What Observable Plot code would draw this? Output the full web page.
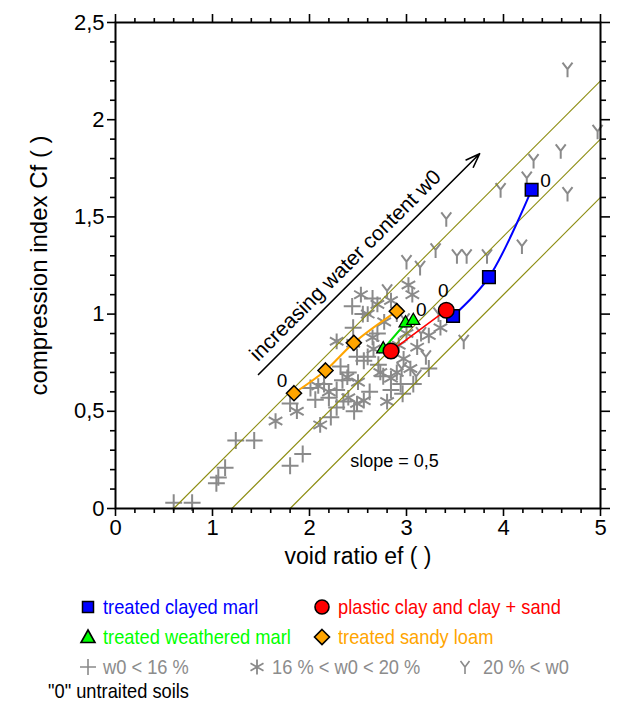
<!DOCTYPE html>
<html>
<head>
<meta charset="utf-8">
<script src="https://cdn.jsdelivr.net/npm/d3@7"></script>
<script src="https://cdn.jsdelivr.net/npm/@observablehq/plot@0.6"></script>
<style>
  body { margin: 0; background: white; font-family: "Liberation Sans", Arial, sans-serif; }
  #wrap { width: 621px; position: relative; }
  #legend { position: relative; width: 621px; height: 128px; font-size: 21px; overflow: hidden; }
  #legend .t { position: absolute; line-height: 24px; white-space: nowrap; transform: scaleX(0.87); transform-origin: left center; }
  #legend svg { position: absolute; overflow: visible; }
</style>
</head>
<body>
<div id="wrap"></div>
<script>
// ---------- data ----------
const xTicks = [0, 1, 2, 3, 4, 5];
const xTickLabels = ["0", "1", "2", "3", "4", "5"];
const yTicks = [0, 0.5, 1, 1.5, 2, 2.5];
const yTickLabels = ["0", "0,5", "1", "1,5", "2", "2,5"];

// treated clayed marl (blue squares); last point = untreated "0"
const blueX = [3.48, 3.85, 4.29];
const blueY = [0.99, 1.19, 1.64];
// plastic clay and clay + sand (red circles)
const redX = [2.84, 3.41];
const redY = [0.81, 1.02];
// treated weathered marl (green triangles)
const greenX = [2.76, 2.99, 3.07];
const greenY = [0.82, 0.953, 0.966];
// treated sandy loam (orange diamonds)
const orangeX = [1.84, 2.165, 2.457, 2.90];
const orangeY = [0.593, 0.71, 0.852, 1.015];
// index of the untreated soil in each series
const untreated = { blue: 2, red: 1, green: 2, orange: 0 };

// w0 < 16 %
const lowX = [0.60, 0.79, 1.04, 1.06, 1.13, 1.24, 1.43, 1.80, 1.93, 1.80, 2.01, 2.06, 2.22, 2.20, 2.28, 2.35, 2.46, 2.34, 2.28, 2.32, 2.49, 2.56, 2.60, 2.71, 2.84, 2.96, 2.94, 3.07, 2.76, 3.23, 2.55, 2.65, 2.45, 2.40, 2.15, 2.70, 2.62, 2.44];
const lowY = [0.03, 0.03, 0.13, 0.16, 0.21, 0.35, 0.35, 0.22, 0.28, 0.54, 0.62, 0.56, 0.47, 0.57, 0.52, 0.55, 0.50, 0.66, 0.61, 0.73, 0.78, 0.76, 0.78, 0.74, 0.61, 0.59, 0.64, 0.64, 0.68, 0.72, 1.00, 1.08, 0.93, 0.70, 0.64, 0.90, 0.60, 1.04];
// 16 % < w0 < 20 %
const midX = [1.65, 1.87, 2.11, 2.09, 2.28, 2.39, 2.40, 2.49, 2.56, 2.70, 2.77, 2.65, 2.66, 2.92, 2.97, 3.04, 2.84, 2.73, 3.02, 2.84, 3.06, 3.35, 3.23, 3.11, 2.53, 2.60, 2.80, 2.90, 2.45, 3.00, 2.50, 2.20];
const midY = [0.45, 0.50, 0.43, 0.63, 0.86, 0.675, 0.57, 0.54, 0.555, 1.05, 0.96, 0.88, 0.82, 0.84, 0.77, 0.72, 0.67, 0.70, 1.15, 1.07, 1.10, 0.93, 0.89, 0.83, 1.10, 1.00, 0.55, 0.70, 0.85, 0.90, 0.65, 0.60];
// 20 % < w0
const highX = [4.66, 4.97, 4.59, 4.31, 4.24, 4.66, 3.97, 3.41, 4.19, 3.30, 3.52, 3.62, 3.83, 3.14, 3.00, 3.59, 3.33, 3.15, 2.98, 2.90, 3.20, 2.95, 2.80, 3.10, 2.88];
const highY = [2.26, 1.94, 1.84, 1.79, 1.70, 1.62, 1.64, 1.49, 1.35, 1.33, 1.30, 1.30, 1.30, 1.24, 1.27, 0.86, 1.00, 0.90, 0.97, 1.00, 0.78, 0.72, 1.12, 0.68, 0.82];

// reference lines of slope 0.5: x-intercepts
const refIntercepts = [0.6, 1.2, 1.8];
const refSlope = 0.5;

// annotations
const arrowStart = [1.474, 0.689];
const arrowEnd = [3.754, 1.825];
const arrowText = "increasing water content w0";
const arrowTextPos = [2.37, 1.25];
const slopeText = "slope = 0,5";
const slopeTextPos = [2.42, 0.242];

// ---------- build ----------
const pts = (xs, ys) => xs.map((x, i) => ({x, y: ys[i]}));
const blue = pts(blueX, blueY), red = pts(redX, redY), green = pts(greenX, greenY), orange = pts(orangeX, orangeY);
const low = pts(lowX, lowY), mid = pts(midX, midY), high = pts(highX, highY);
const refLines = refIntercepts.map(x0 => ({x1: x0, y1: 0, x2: 5, y2: refSlope * (5 - x0)}));

const yMinor = d3.range(1, 25).map(i => i / 10).filter(v => Math.abs(v * 2 - Math.round(v * 2)) > 1e-9);
const xMinor = d3.range(1, 25).map(i => i / 5).filter(v => Math.abs(v - Math.round(v)) > 1e-9);
const xFmt = d => xTickLabels[xTicks.indexOf(d)];
const yFmt = d => yTickLabels[yTicks.indexOf(d)];
const none = () => "";

const wye = {
  draw(ctx, size) {
    ctx.moveTo(0, 0); ctx.lineTo(0, 8);
    ctx.moveTo(0, 0); ctx.lineTo(-5, -6.5);
    ctx.moveTo(0, 0); ctx.lineTo(5, -6.5);
  }
};

const GRAY = "#8a8a8a";
const OLIVE = "#8c8c10";
const FONT = "'Liberation Sans', Arial, sans-serif";

const axisCommon = {stroke: "black", strokeWidth: 1.6, label: null, fontSize: 22};

const chart = Plot.plot({
  width: 621,
  height: 575,
  marginLeft: 115,
  marginRight: 21,
  marginTop: 22,
  marginBottom: 67,
  x: {domain: [0, 5], label: null},
  y: {domain: [0, 2.5], label: null},
  style: {fontFamily: FONT, fontSize: "22px", color: "black", background: "white", overflow: "visible"},
  marks: [
    // gray scatter
    Plot.dot(low, {x: "x", y: "y", symbol: "plus", r: 5.5, stroke: GRAY, strokeWidth: 2, fill: "none"}),
    Plot.dot(mid, {x: "x", y: "y", symbol: "asterisk", r: 7.4, stroke: GRAY, strokeWidth: 2, fill: "none"}),
    Plot.dot(high, {x: "x", y: "y", symbol: wye, r: 5, stroke: GRAY, strokeWidth: 2, fill: "none"}),
    // reference lines
    Plot.link(refLines, {x1: "x1", y1: "y1", x2: "x2", y2: "y2", stroke: OLIVE, strokeWidth: 1.1}),
    // series lines
    Plot.line(blue, {x: "x", y: "y", stroke: "#0000ff", strokeWidth: 2, curve: "catmull-rom"}),
    Plot.line(green, {x: "x", y: "y", stroke: "#00dd00", strokeWidth: 2}),
    Plot.line(orange, {x: "x", y: "y", stroke: "#ffa500", strokeWidth: 2, curve: "catmull-rom"}),
    Plot.line(red, {x: "x", y: "y", stroke: "#ff0000", strokeWidth: 1.6}),
    // series markers
    Plot.dot(blue, {x: "x", y: "y", symbol: "square", r: 7.1, fill: "#0000ff", stroke: "black", strokeWidth: 1.5}),
    Plot.dot(green, {x: "x", y: "y", symbol: "triangle", r: 4.8, fill: "#00ff00", stroke: "black", strokeWidth: 1.3}),
    Plot.dot(orange, {x: "x", y: "y", symbol: "diamond2", r: 6.8, fill: "#ffa500", stroke: "black", strokeWidth: 1.5}),
    Plot.dot(red, {x: "x", y: "y", symbol: "circle", r: 7.8, fill: "#ff0000", stroke: "black", strokeWidth: 1.5}),
    // "0" labels for untreated soils
    Plot.text([blue[untreated.blue]], {x: "x", y: "y", text: () => "0", dx: 14, dy: -9, fontSize: 19, textAnchor: "middle"}),
    Plot.text([red[untreated.red]], {x: "x", y: "y", text: () => "0", dx: -3, dy: -19, fontSize: 19, textAnchor: "middle"}),
    Plot.text([green[untreated.green]], {x: "x", y: "y", text: () => "0", dx: 8, dy: -11, fontSize: 19, textAnchor: "middle"}),
    Plot.text([orange[untreated.orange]], {x: "x", y: "y", text: () => "0", dx: -12, dy: -12, fontSize: 19, textAnchor: "middle"}),
    // arrow + annotations
    Plot.arrow([{x1: arrowStart[0], y1: arrowStart[1], x2: arrowEnd[0], y2: arrowEnd[1]}],
      {x1: "x1", y1: "y1", x2: "x2", y2: "y2", stroke: "black", strokeWidth: 1.6, headLength: 14, headAngle: 40}),
    Plot.text([arrowText], {x: () => arrowTextPos[0], y: () => arrowTextPos[1], text: d => d, rotate: -45, fontSize: 21, textAnchor: "middle", lineAnchor: "middle"}),
    Plot.text([slopeText], {x: () => slopeTextPos[0], y: () => slopeTextPos[1], text: d => d, fontSize: 18, textAnchor: "start", lineAnchor: "middle"}),
    // axes: all four sides, major + minor ticks
    Plot.axisX(xTicks, {...axisCommon, anchor: "bottom", tickSize: 8, tickPadding: 3, tickFormat: xFmt}),
    Plot.axisX(xMinor, {...axisCommon, anchor: "bottom", tickSize: 5, tickFormat: none}),
    Plot.axisX(xTicks, {...axisCommon, anchor: "top", tickSize: 9, tickFormat: none}),
    Plot.axisX(xMinor, {...axisCommon, anchor: "top", tickSize: 5, tickFormat: none}),
    Plot.axisY(yTicks, {...axisCommon, anchor: "left", tickSize: 8, tickPadding: 3, tickFormat: yFmt}),
    Plot.axisY(yMinor, {...axisCommon, anchor: "left", tickSize: 5, tickFormat: none}),
    Plot.axisY(yTicks, {...axisCommon, anchor: "right", tickSize: 9, tickFormat: none}),
    Plot.axisY(yMinor, {...axisCommon, anchor: "right", tickSize: 5, tickFormat: none}),
    Plot.frame({stroke: "black", strokeWidth: 2}),
    // axis titles
    Plot.text(["void ratio ef ( )"], {frameAnchor: "bottom", text: d => d, dy: 48, fontSize: 23, textAnchor: "middle", lineAnchor: "middle"}),
    Plot.text(["compression index Cf ( )"], {frameAnchor: "left", text: d => d, dx: -76, rotate: -90, fontSize: 24, textAnchor: "middle", lineAnchor: "middle"})
  ]
});

document.getElementById("wrap").appendChild(chart);

// ---------- legend (HTML below the SVG) ----------
const legendItems = [
  {sym: "square", color: "#0000ff", text: "treated clayed marl", textColor: "#0000ff", cx: 88, cy: 32, tx: 103},
  {sym: "circle", color: "#ff0000", text: "plastic clay and clay + sand", textColor: "#ff0000", cx: 322, cy: 32, tx: 338},
  {sym: "triangle", color: "#00ff00", text: "treated weathered marl", textColor: "#00ff00", cx: 88, cy: 62, tx: 103},
  {sym: "diamond", color: "#ffa500", text: "treated sandy loam", textColor: "#ffa500", cx: 322, cy: 62, tx: 338},
  {sym: "plus", color: GRAY, text: "w0 < 16 %", textColor: "#8c8c8c", cx: 88, cy: 92, tx: 103},
  {sym: "asterisk", color: GRAY, text: "16 % < w0 < 20 %", textColor: "#8c8c8c", cx: 257, cy: 92, tx: 272},
  {sym: "wye", color: GRAY, text: "20 % < w0", textColor: "#8c8c8c", cx: 465, cy: 92, tx: 483},
  {sym: null, text: "\"0\" untraited soils", textColor: "black", cx: 0, cy: 116, tx: 48}
];
const shapes = {
  square: c => `<rect x="-5.5" y="-5.5" width="11" height="11" fill="${c}" stroke="black" stroke-width="1.5"/>`,
  circle: c => `<circle r="7" fill="${c}" stroke="black" stroke-width="1.6"/>`,
  triangle: c => `<path d="M0,-7L7,5.5L-7,5.5Z" fill="${c}" stroke="black" stroke-width="1.6"/>`,
  diamond: c => `<path d="M0,-7.5L7.5,0L0,7.5L-7.5,0Z" fill="${c}" stroke="black" stroke-width="1.6"/>`,
  plus: c => `<path d="M-8,0H8M0,-8V8" stroke="${c}" stroke-width="1.6" fill="none"/>`,
  asterisk: c => `<path d="M0,-7.5V7.5M-6.5,-3.75L6.5,3.75M-6.5,3.75L6.5,-3.75" stroke="${c}" stroke-width="1.8" fill="none"/>`,
  wye: c => `<path d="M0,0V7M0,0L-4.5,-6M0,0L4.5,-6" stroke="${c}" stroke-width="1.6" fill="none"/>`
};
const legend = document.createElement("div");
legend.id = "legend";
legend.innerHTML = legendItems.map(d =>
  (d.sym ? `<svg width="20" height="20" style="left:${d.cx - 10}px;top:${d.cy - 10}px"><g transform="translate(10,10)">${shapes[d.sym](d.color)}</g></svg>` : "") +
  `<div class="t" style="left:${d.tx}px;top:${d.cy - 12}px;color:${d.textColor}">${d.text.replace(/</g, "&lt;")}</div>`
).join("");
document.body.appendChild(legend);
</script>
</body>
</html>
